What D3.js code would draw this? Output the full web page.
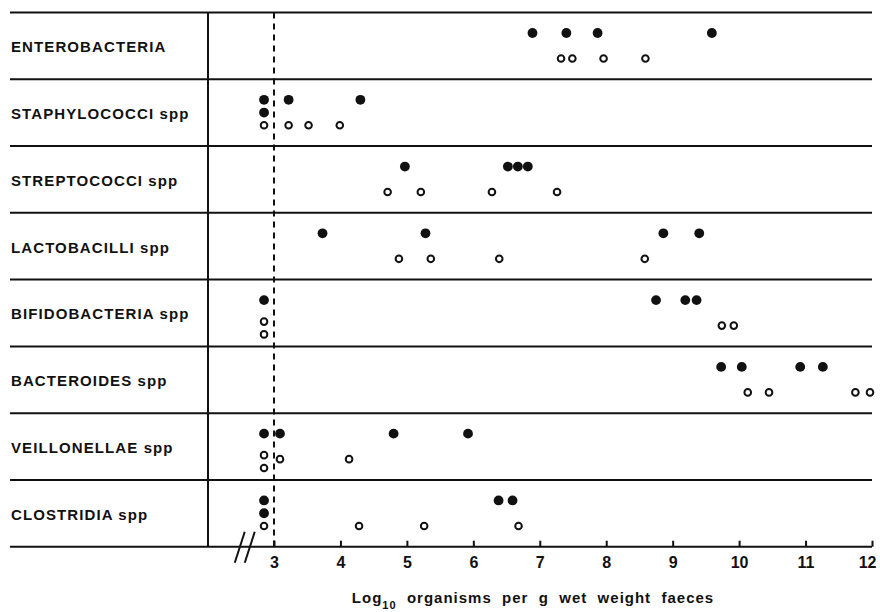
<!DOCTYPE html>
<html>
<head>
<meta charset="utf-8">
<script src="https://cdn.jsdelivr.net/npm/d3@7"></script>
<style>
  body { margin: 0; background: #fff; }
  text { font-family: "Liberation Sans", Arial, sans-serif; font-weight: bold; fill: #111; }
</style>
</head>
<body>
<script>
// row labels, top to bottom
const groups = [
  "ENTEROBACTERIA",
  "STAPHYLOCOCCI spp",
  "STREPTOCOCCI spp",
  "LACTOBACILLI spp",
  "BIFIDOBACTERIA spp",
  "BACTEROIDES spp",
  "VEILLONELLAE spp",
  "CLOSTRIDIA spp"
];

// log10 counts, filled circles (one array per row)
const filledValues = [
  [6.89, 7.4, 7.87, 9.59],
  [2.85, 2.85, 3.22, 4.3],
  [4.97, 6.52, 6.67, 6.82],
  [3.73, 5.28, 8.86, 9.4],
  [2.85, 8.75, 9.19, 9.36],
  [9.73, 10.04, 10.92, 11.26],
  [2.85, 3.09, 4.8, 5.92],
  [2.85, 2.85, 6.38, 6.59]
];

// log10 counts, open circles
const openValues = [
  [7.32, 7.49, 7.96, 8.59],
  [2.85, 3.22, 3.52, 3.99],
  [4.71, 5.21, 6.28, 7.26],
  [4.88, 5.36, 6.39, 8.58],
  [2.85, 2.85, 9.74, 9.92],
  [10.13, 10.45, 11.75, 11.97],
  [2.85, 2.85, 3.09, 4.13],
  [2.85, 4.28, 5.26, 6.68]
];

const xTicks = [3, 4, 5, 6, 7, 8, 9, 10, 11, 12];
const detectionLimit = 3;

const w = 880;
const h = 612;
const leftX = 10;
const plotLeft = 208;
const topY = 12.5;
const bottomY = 546.7;

const svg = d3.select("body").append("svg").attr("width", w).attr("height", h);

// scales
const xScale = d3.scaleLinear().domain([3, 12]).range([274, 872]);
const yScale = d3.scaleBand().domain(groups).range([topY, bottomY]);
const band = yScale.bandwidth();

// row lines
const bounds = groups.map((g) => yScale(g)).concat([bottomY]);
svg
  .selectAll("line.row")
  .data(bounds)
  .enter()
  .append("line")
  .attr("class", "row")
  .attr("x1", leftX)
  .attr("x2", 872)
  .attr("y1", (d) => d)
  .attr("y2", (d) => d)
  .style("stroke", "#111")
  .style("stroke-width", 2);

// vertical separator
svg
  .append("line")
  .attr("x1", plotLeft)
  .attr("x2", plotLeft)
  .attr("y1", topY)
  .attr("y2", bottomY)
  .style("stroke", "#111")
  .style("stroke-width", 2);

// detection limit dashed line
svg
  .append("line")
  .attr("x1", xScale(detectionLimit))
  .attr("x2", xScale(detectionLimit))
  .attr("y1", topY)
  .attr("y2", bottomY)
  .style("stroke", "#111")
  .style("stroke-width", 2)
  .style("stroke-dasharray", "6,5");

// row labels
svg
  .selectAll("text.label")
  .data(groups)
  .enter()
  .append("text")
  .attr("class", "label")
  .attr("x", 11)
  .attr("y", (d) => yScale(d) + band / 2 + 6.5)
  .style("font-size", "15px")
  .style("letter-spacing", "1.1px")
  .text((d) => d);

// stack repeated values vertically within a row
function stackPoints(values, base, shift) {
  const counts = {};
  values.forEach((v) => (counts[v] = (counts[v] || 0) + 1));
  const seen = {};
  return values.map((v) => {
    const k = seen[v] || 0;
    seen[v] = k + 1;
    return { v: v, off: base - shift * (counts[v] - 1) + 12.8 * k };
  });
}

const filledPoints = [];
const openPoints = [];
groups.forEach((g, i) => {
  stackPoints(filledValues[i], 20.5, 0).forEach((p) => filledPoints.push({ g: g, v: p.v, off: p.off }));
  stackPoints(openValues[i], 46, 4).forEach((p) => openPoints.push({ g: g, v: p.v, off: p.off }));
});

svg
  .selectAll("circle.filled")
  .data(filledPoints)
  .enter()
  .append("circle")
  .attr("class", "filled")
  .attr("cx", (d) => xScale(d.v))
  .attr("cy", (d) => yScale(d.g) + d.off)
  .attr("r", 4.9)
  .style("fill", "#111");

svg
  .selectAll("circle.open")
  .data(openPoints)
  .enter()
  .append("circle")
  .attr("class", "open")
  .attr("cx", (d) => xScale(d.v))
  .attr("cy", (d) => yScale(d.g) + d.off)
  .attr("r", 3.3)
  .style("fill", "#fff")
  .style("stroke", "#111")
  .style("stroke-width", 2);

// x axis, ticks pointing up
const xAxis = d3.axisBottom(xScale).tickValues(xTicks).tickSize(-6).tickPadding(10).tickFormat(d3.format("d"));
const gx = svg
  .append("g")
  .attr("transform", "translate(0," + bottomY + ")")
  .call(xAxis);
gx.select(".domain").remove();
gx.selectAll(".tick line").style("stroke", "#111").style("stroke-width", 2);
gx.selectAll(".tick text")
  .style("font-size", "16px")
  .style("font-family", "'Liberation Sans', Arial, sans-serif")
  .style("font-weight", "bold")
  .style("fill", "#111");
// keep the last label inside the page
gx.selectAll(".tick text").filter((d) => d === 12).attr("text-anchor", "end").attr("dx", 4);

// axis break mark
const bx = xScale(2.56);
[-5, 5].forEach((dx) => {
  svg
    .append("line")
    .attr("x1", bx + dx - 5)
    .attr("y1", bottomY + 16)
    .attr("x2", bx + dx + 5)
    .attr("y2", bottomY - 15)
    .style("stroke", "#111")
    .style("stroke-width", 2);
});

// axis title
const title = svg
  .append("text")
  .attr("x", 533)
  .attr("y", 603)
  .attr("text-anchor", "middle")
  .style("font-size", "15px")
  .style("letter-spacing", "1px")
  .style("white-space", "pre");
title.append("tspan").text("Log");
title.append("tspan").attr("dy", 6).style("font-size", "11px").text("10");
title.append("tspan").attr("dy", -6).text("  organisms  per  g  wet  weight  faeces");
</script>
</body>
</html>
